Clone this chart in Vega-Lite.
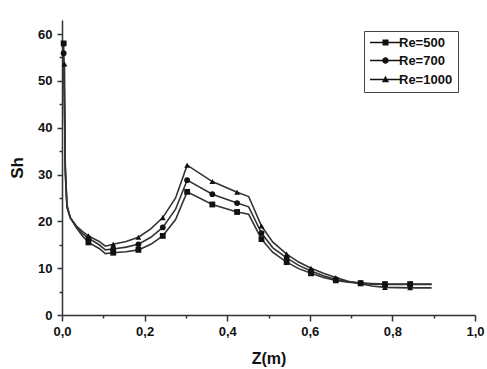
{
  "$schema": "https://vega.github.io/schema/vega-lite/v6.json",
  "autosize": {"type": "none"},
  "width": 413,
  "height": 295,
  "padding": {"left": 62, "top": 20, "right": 12, "bottom": 54},
  "background": "white",
  "config": {
    "view": {"stroke": null},
    "font": "Liberation Sans",
    "axis": {"grid": false, "domainColor": "#333", "domainWidth": 1.5, "tickColor": "#333", "tickWidth": 1.5, "labelFont": "Liberation Sans", "labelFontWeight": "bold", "labelFontSize": 13, "labelColor": "#111", "titleFont": "Liberation Sans", "titleFontWeight": "bold", "titleFontSize": 16, "titleColor": "#111"}
  },
  "datasets": {
    "sh": [
      {"Re": "Re=500", "z": 0.004, "Sh": 58.0, "m": 1},
      {"Re": "Re=500", "z": 0.008, "Sh": 32.0, "m": 0},
      {"Re": "Re=500", "z": 0.012, "Sh": 23.5, "m": 0},
      {"Re": "Re=500", "z": 0.02, "Sh": 20.8, "m": 0},
      {"Re": "Re=500", "z": 0.035, "Sh": 18.6, "m": 0},
      {"Re": "Re=500", "z": 0.05, "Sh": 16.8, "m": 0},
      {"Re": "Re=500", "z": 0.064, "Sh": 15.5, "m": 1},
      {"Re": "Re=500", "z": 0.09, "Sh": 14.2, "m": 0},
      {"Re": "Re=500", "z": 0.105, "Sh": 13.1, "m": 0},
      {"Re": "Re=500", "z": 0.124, "Sh": 13.3, "m": 1},
      {"Re": "Re=500", "z": 0.155, "Sh": 13.5, "m": 0},
      {"Re": "Re=500", "z": 0.185, "Sh": 13.9, "m": 1},
      {"Re": "Re=500", "z": 0.215, "Sh": 15.1, "m": 0},
      {"Re": "Re=500", "z": 0.244, "Sh": 16.9, "m": 1},
      {"Re": "Re=500", "z": 0.275, "Sh": 20.4, "m": 0},
      {"Re": "Re=500", "z": 0.303, "Sh": 26.3, "m": 1},
      {"Re": "Re=500", "z": 0.364, "Sh": 23.6, "m": 1},
      {"Re": "Re=500", "z": 0.424, "Sh": 22.0, "m": 1},
      {"Re": "Re=500", "z": 0.452, "Sh": 21.5, "m": 0},
      {"Re": "Re=500", "z": 0.483, "Sh": 16.2, "m": 1},
      {"Re": "Re=500", "z": 0.51, "Sh": 13.4, "m": 0},
      {"Re": "Re=500", "z": 0.544, "Sh": 11.3, "m": 1},
      {"Re": "Re=500", "z": 0.573, "Sh": 9.9, "m": 0},
      {"Re": "Re=500", "z": 0.603, "Sh": 8.9, "m": 1},
      {"Re": "Re=500", "z": 0.633, "Sh": 8.0, "m": 0},
      {"Re": "Re=500", "z": 0.663, "Sh": 7.4, "m": 1},
      {"Re": "Re=500", "z": 0.693, "Sh": 7.0, "m": 0},
      {"Re": "Re=500", "z": 0.723, "Sh": 6.8, "m": 1},
      {"Re": "Re=500", "z": 0.75, "Sh": 6.7, "m": 0},
      {"Re": "Re=500", "z": 0.782, "Sh": 6.6, "m": 1},
      {"Re": "Re=500", "z": 0.843, "Sh": 6.6, "m": 1},
      {"Re": "Re=500", "z": 0.895, "Sh": 6.6, "m": 0},
      {"Re": "Re=700", "z": 0.004, "Sh": 55.9, "m": 1},
      {"Re": "Re=700", "z": 0.008, "Sh": 31.0, "m": 0},
      {"Re": "Re=700", "z": 0.012, "Sh": 23.2, "m": 0},
      {"Re": "Re=700", "z": 0.02, "Sh": 20.8, "m": 0},
      {"Re": "Re=700", "z": 0.035, "Sh": 18.8, "m": 0},
      {"Re": "Re=700", "z": 0.05, "Sh": 17.3, "m": 0},
      {"Re": "Re=700", "z": 0.064, "Sh": 16.4, "m": 1},
      {"Re": "Re=700", "z": 0.09, "Sh": 15.0, "m": 0},
      {"Re": "Re=700", "z": 0.105, "Sh": 13.9, "m": 0},
      {"Re": "Re=700", "z": 0.124, "Sh": 14.1, "m": 1},
      {"Re": "Re=700", "z": 0.155, "Sh": 14.5, "m": 0},
      {"Re": "Re=700", "z": 0.185, "Sh": 15.1, "m": 1},
      {"Re": "Re=700", "z": 0.215, "Sh": 16.6, "m": 0},
      {"Re": "Re=700", "z": 0.244, "Sh": 18.7, "m": 1},
      {"Re": "Re=700", "z": 0.275, "Sh": 22.6, "m": 0},
      {"Re": "Re=700", "z": 0.303, "Sh": 28.8, "m": 1},
      {"Re": "Re=700", "z": 0.364, "Sh": 25.8, "m": 1},
      {"Re": "Re=700", "z": 0.424, "Sh": 23.9, "m": 1},
      {"Re": "Re=700", "z": 0.452, "Sh": 23.1, "m": 0},
      {"Re": "Re=700", "z": 0.483, "Sh": 17.5, "m": 1},
      {"Re": "Re=700", "z": 0.51, "Sh": 14.4, "m": 0},
      {"Re": "Re=700", "z": 0.544, "Sh": 12.2, "m": 1},
      {"Re": "Re=700", "z": 0.573, "Sh": 10.6, "m": 0},
      {"Re": "Re=700", "z": 0.603, "Sh": 9.4, "m": 1},
      {"Re": "Re=700", "z": 0.633, "Sh": 8.4, "m": 0},
      {"Re": "Re=700", "z": 0.663, "Sh": 7.6, "m": 1},
      {"Re": "Re=700", "z": 0.693, "Sh": 7.1, "m": 0},
      {"Re": "Re=700", "z": 0.723, "Sh": 6.8, "m": 1},
      {"Re": "Re=700", "z": 0.75, "Sh": 6.6, "m": 0},
      {"Re": "Re=700", "z": 0.782, "Sh": 6.5, "m": 1},
      {"Re": "Re=700", "z": 0.843, "Sh": 6.5, "m": 1},
      {"Re": "Re=700", "z": 0.895, "Sh": 6.5, "m": 0},
      {"Re": "Re=1000", "z": 0.006, "Sh": 53.6, "m": 1},
      {"Re": "Re=1000", "z": 0.008, "Sh": 30.0, "m": 0},
      {"Re": "Re=1000", "z": 0.012, "Sh": 23.0, "m": 0},
      {"Re": "Re=1000", "z": 0.02, "Sh": 20.8, "m": 0},
      {"Re": "Re=1000", "z": 0.035, "Sh": 19.0, "m": 0},
      {"Re": "Re=1000", "z": 0.05, "Sh": 17.8, "m": 0},
      {"Re": "Re=1000", "z": 0.064, "Sh": 16.9, "m": 1},
      {"Re": "Re=1000", "z": 0.09, "Sh": 15.7, "m": 0},
      {"Re": "Re=1000", "z": 0.105, "Sh": 14.7, "m": 0},
      {"Re": "Re=1000", "z": 0.124, "Sh": 15.1, "m": 1},
      {"Re": "Re=1000", "z": 0.155, "Sh": 15.7, "m": 0},
      {"Re": "Re=1000", "z": 0.185, "Sh": 16.6, "m": 1},
      {"Re": "Re=1000", "z": 0.215, "Sh": 18.4, "m": 0},
      {"Re": "Re=1000", "z": 0.244, "Sh": 20.8, "m": 1},
      {"Re": "Re=1000", "z": 0.275, "Sh": 25.0, "m": 0},
      {"Re": "Re=1000", "z": 0.303, "Sh": 32.0, "m": 1},
      {"Re": "Re=1000", "z": 0.364, "Sh": 28.5, "m": 1},
      {"Re": "Re=1000", "z": 0.424, "Sh": 26.2, "m": 1},
      {"Re": "Re=1000", "z": 0.452, "Sh": 25.3, "m": 0},
      {"Re": "Re=1000", "z": 0.483, "Sh": 19.0, "m": 1},
      {"Re": "Re=1000", "z": 0.51, "Sh": 15.6, "m": 0},
      {"Re": "Re=1000", "z": 0.544, "Sh": 13.0, "m": 1},
      {"Re": "Re=1000", "z": 0.573, "Sh": 11.3, "m": 0},
      {"Re": "Re=1000", "z": 0.603, "Sh": 10.0, "m": 1},
      {"Re": "Re=1000", "z": 0.633, "Sh": 8.9, "m": 0},
      {"Re": "Re=1000", "z": 0.663, "Sh": 8.0, "m": 1},
      {"Re": "Re=1000", "z": 0.693, "Sh": 7.2, "m": 0},
      {"Re": "Re=1000", "z": 0.723, "Sh": 6.7, "m": 1},
      {"Re": "Re=1000", "z": 0.75, "Sh": 6.2, "m": 0},
      {"Re": "Re=1000", "z": 0.782, "Sh": 5.9, "m": 1},
      {"Re": "Re=1000", "z": 0.843, "Sh": 5.8, "m": 1},
      {"Re": "Re=1000", "z": 0.895, "Sh": 5.8, "m": 0}
    ]
  },
  "data": {"name": "sh"},
  "encoding": {
    "x": {
      "field": "z", "type": "quantitative",
      "scale": {"domain": [0, 1], "nice": false, "zero": false},
      "axis": {
        "title": "Z(m)",
        "values": [0, 0.1, 0.2, 0.3, 0.4, 0.5, 0.6, 0.7, 0.8, 0.9, 1.0],
        "labelExpr": "round(datum.value*10)%2==0 ? replace(format(datum.value,'.1f'),'.',',') : ''",
        "tickSize": {"condition": {"test": "round(datum.value*10)%2==0", "value": 6}, "value": 3},
        "labelPadding": 4,
        "titlePadding": 12,
        "labelFlush": false,
        "labelOverlap": false
      }
    },
    "y": {
      "field": "Sh", "type": "quantitative",
      "scale": {"domain": [0, 63], "nice": false},
      "axis": {
        "title": "Sh",
        "titleFontSize": 17,
        "values": [0, 5, 10, 15, 20, 25, 30, 35, 40, 45, 50, 55, 60],
        "labelExpr": "datum.value%10==0 ? format(datum.value,'d') : ''",
        "tickSize": {"condition": {"test": "datum.value%10==0", "value": 5}, "value": 3},
        "labelPadding": 5,
        "titlePadding": 11,
        "labelOverlap": false
      }
    }
  },
  "layer": [
    {
      "mark": {"type": "line", "color": "#333333", "strokeWidth": 1.6},
      "encoding": {"detail": {"field": "Re"}}
    },
    {
      "transform": [{"filter": "datum.m == 1"}],
      "mark": {"type": "point", "filled": true, "color": "#111", "opacity": 1, "size": 34},
      "encoding": {
        "shape": {
          "field": "Re", "type": "nominal",
          "scale": {"domain": ["Re=500", "Re=700", "Re=1000"], "range": ["square", "circle", "triangle-up"]},
          "legend": null
        }
      }
    },
    {
      "transform": [{"filter": "datum.m == 2"}],
      "mark": {"type": "point", "filled": true, "fill": "#111", "opacity": 1},
      "encoding": {
        "shape": {
          "field": "Re", "type": "nominal",
          "scale": {"domain": ["Re=500", "Re=700", "Re=1000"], "range": ["M-3.1,-0.13H3.1V0.13H-3.1ZM-0.6,-0.6H0.6V0.6H-0.6Z", "M-3.1,-0.13H3.1V0.13H-3.1ZM0.65,0A0.65,0.65,0,1,1,-0.65,0A0.65,0.65,0,1,1,0.65,0Z", "M-3.1,-0.13H3.1V0.13H-3.1ZM0,-0.75L0.72,0.55H-0.72Z"]},
          "legend": {
            "title": null,
            "orient": "none",
            "legendX": 302,
            "legendY": 11,
            "strokeColor": "#444",
            "padding": 5,
            "labelFont": "Liberation Sans",
            "labelFontSize": 13,
            "labelFontWeight": "bold",
            "labelColor": "#111",
            "symbolSize": 100,
            "symbolOffset": 10,
            "labelOffset": 7,
            "rowPadding": 4,
            "symbolFillColor": "#111"
          }
        }
      }
    }
  ],
  "resolve": {"scale": {"shape": "independent"}}
}
